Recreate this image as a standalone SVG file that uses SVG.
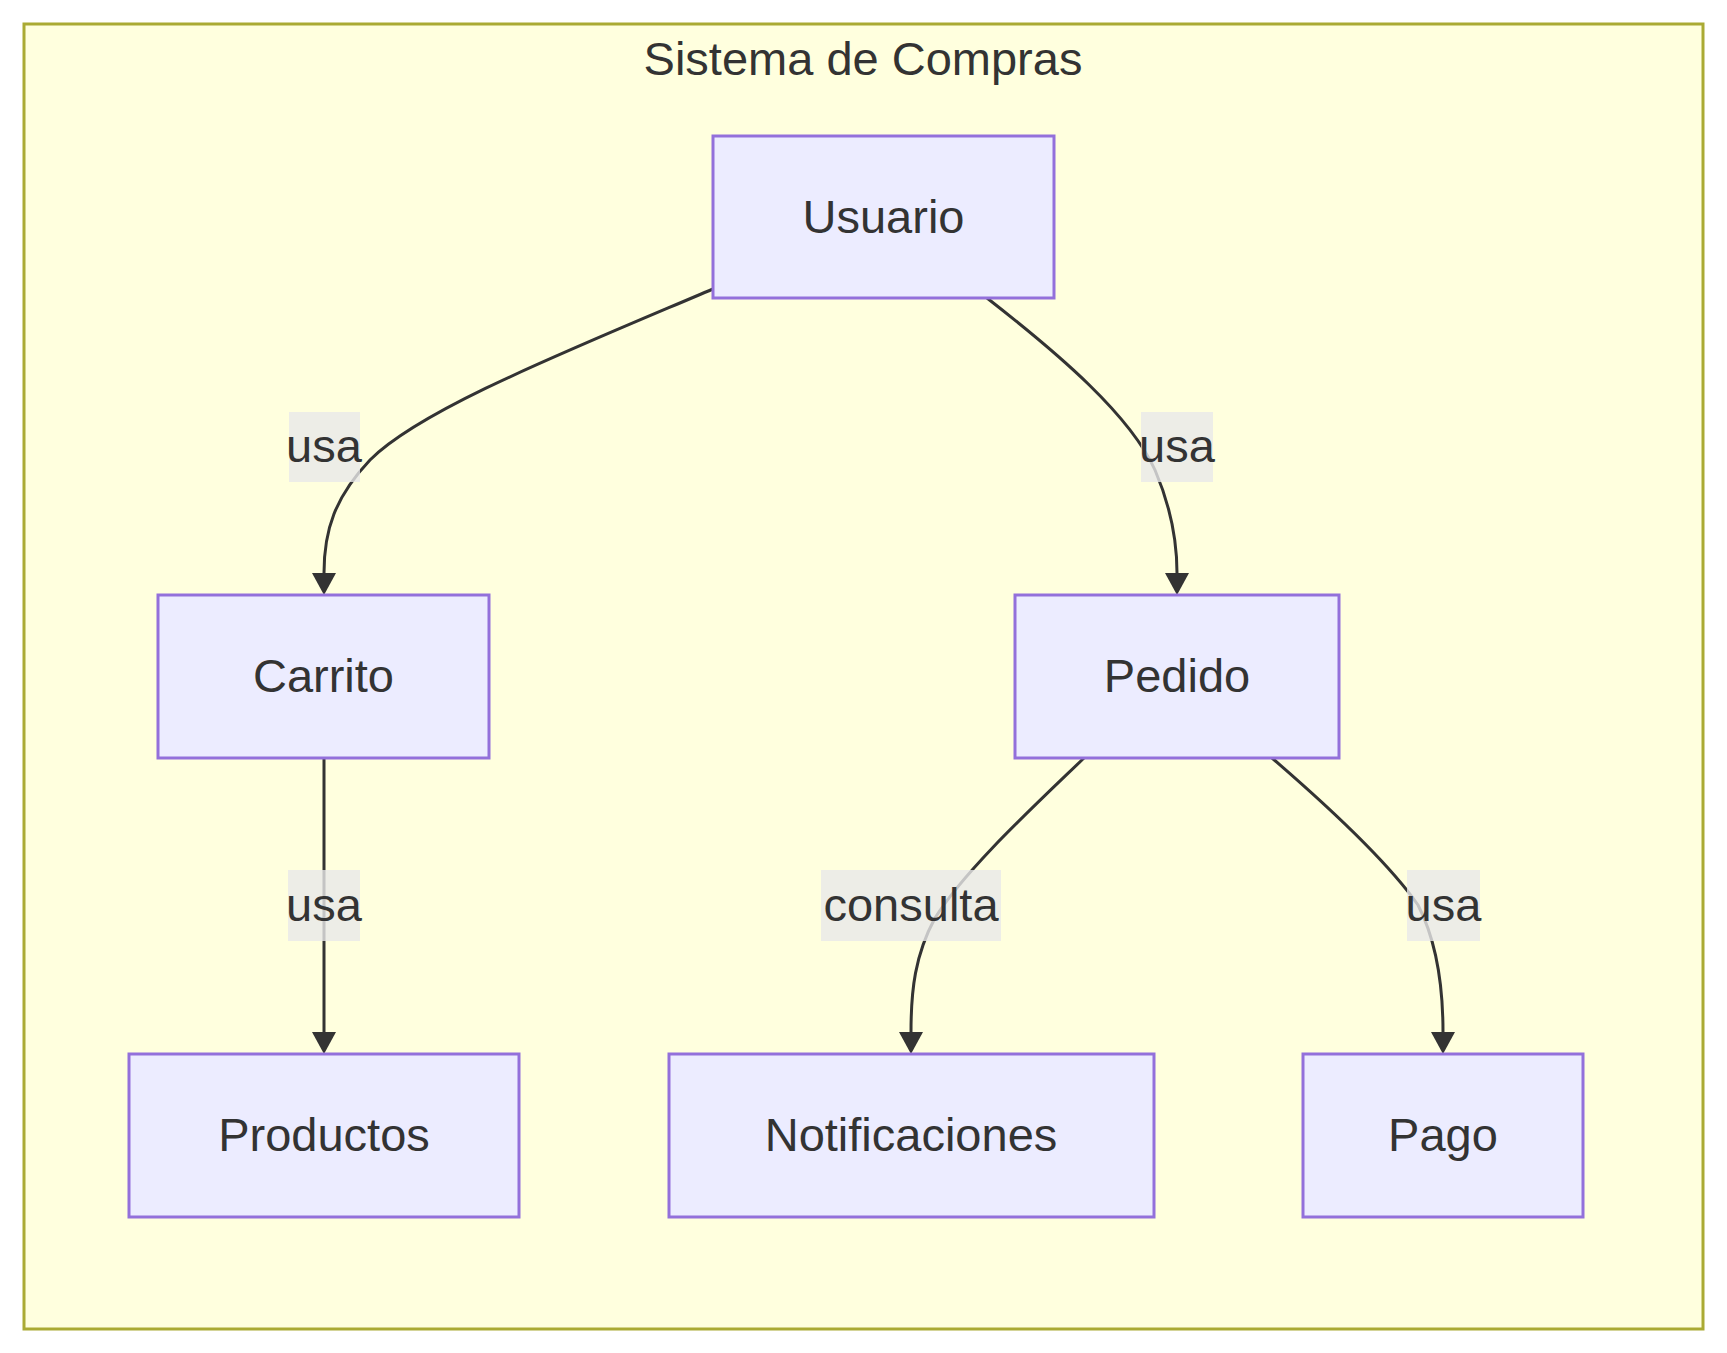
<svg xmlns="http://www.w3.org/2000/svg" width="1727" height="1353" viewBox="0 0 1727 1353">
<style>
.cluster{fill:#ffffde;stroke:#aaaa33;stroke-width:3}
.node rect{fill:#ececff;stroke:#9370db;stroke-width:3}
.t{font-family:"Liberation Sans",Arial,sans-serif;font-size:47px;fill:#333333;text-anchor:middle}
.edge{fill:none;stroke:#333333;stroke-width:3}
.lbl rect{fill:#e8e8e8;fill-opacity:0.8}
</style>
<defs>
<marker id="arrow" viewBox="0 0 22 24" refX="0" refY="12" markerWidth="22" markerHeight="24" markerUnits="userSpaceOnUse" orient="auto">
<path d="M0,0 L22,12 L0,24 z" fill="#333333"/>
</marker>
</defs>
<rect width="1727" height="1353" fill="#ffffff"/>
<g id="cluster-sistema">
<rect class="cluster" x="24" y="24" width="1679" height="1305"/>
<text class="t" x="863" y="75">Sistema de Compras</text>
</g>
<g id="connectors">
<path class="edge" d="M713,289 C560,354 420,410 370,460 C335,497 324,530 324,573" marker-end="url(#arrow)"/>
<path class="edge" d="M987,298 C1060,355 1130,415 1155,470 C1170,505 1177,540 1177,573" marker-end="url(#arrow)"/>
<path class="edge" d="M324,758 L324,1032" marker-end="url(#arrow)"/>
<path class="edge" d="M1084,758 C1030,810 965,870 935,918 C915,955 911,990 911,1032" marker-end="url(#arrow)"/>
<path class="edge" d="M1272,758 C1330,808 1390,865 1418,905 C1436,940 1443,985 1443,1032" marker-end="url(#arrow)"/>
<g class="lbl"><rect x="289" y="412" width="71" height="70"/><text class="t" x="324" y="462">usa</text></g>
<g class="lbl"><rect x="1141" y="412" width="72" height="70"/><text class="t" x="1177" y="462">usa</text></g>
<g class="lbl"><rect x="288" y="870" width="72" height="71"/><text class="t" x="324" y="921">usa</text></g>
<g class="lbl"><rect x="821" y="870" width="180" height="71"/><text class="t" x="911" y="921">consulta</text></g>
<g class="lbl"><rect x="1407" y="870" width="73" height="71"/><text class="t" x="1443.5" y="921">usa</text></g>
</g>
<g id="node-usuario" class="node"><rect x="713" y="136" width="341" height="162"/><text class="t" x="883.5" y="233">Usuario</text></g>
<g id="node-carrito" class="node"><rect x="158" y="595" width="331" height="163"/><text class="t" x="323.5" y="692">Carrito</text></g>
<g id="node-pedido" class="node"><rect x="1015" y="595" width="324" height="163"/><text class="t" x="1177" y="692">Pedido</text></g>
<g id="node-productos" class="node"><rect x="129" y="1054" width="390" height="163"/><text class="t" x="324" y="1151">Productos</text></g>
<g id="node-notificaciones" class="node"><rect x="669" y="1054" width="485" height="163"/><text class="t" x="911" y="1151">Notificaciones</text></g>
<g id="node-pago" class="node"><rect x="1303" y="1054" width="280" height="163"/><text class="t" x="1443" y="1151">Pago</text></g>
</svg>
